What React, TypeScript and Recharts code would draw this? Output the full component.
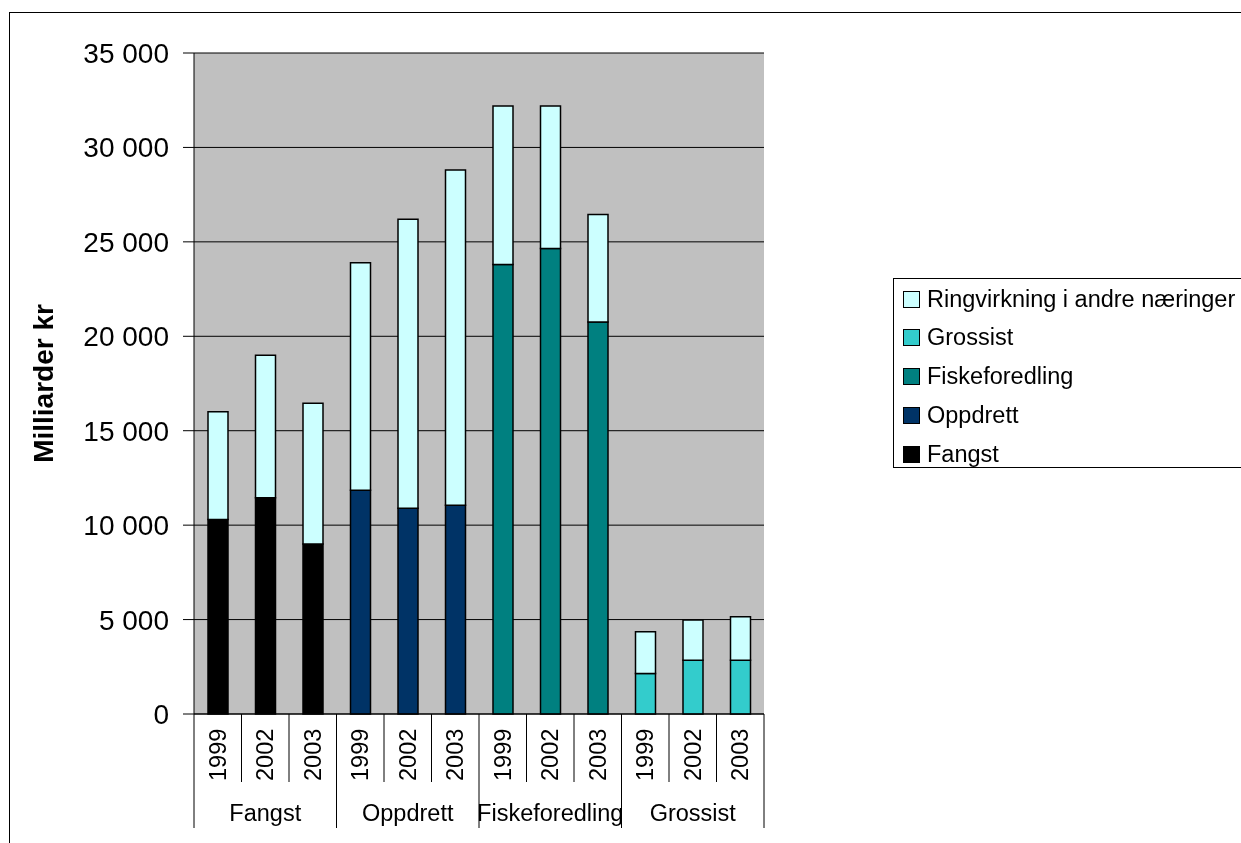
import React from "react";
import { BarChart, Bar, XAxis, YAxis, CartesianGrid } from "recharts";

const years = ["1999", "2002", "2003", "1999", "2002", "2003", "1999", "2002", "2003", "1999", "2002", "2003"];
const groups = ["Fangst", "Fangst", "Fangst", "Oppdrett", "Oppdrett", "Oppdrett", "Fiskeforedling", "Fiskeforedling", "Fiskeforedling", "Grossist", "Grossist", "Grossist"];

const fangst = [10300, 11450, 9000, 0, 0, 0, 0, 0, 0, 0, 0, 0];
const oppdrett = [0, 0, 0, 11850, 10900, 11050, 0, 0, 0, 0, 0, 0];
const fiskeforedling = [0, 0, 0, 0, 0, 0, 23800, 24650, 20750, 0, 0, 0];
const grossist = [0, 0, 0, 0, 0, 0, 0, 0, 0, 2150, 2850, 2850];
const ringvirkning = [5700, 7550, 7450, 12050, 15300, 17750, 8400, 7550, 5700, 2200, 2130, 2300];

const yTicks = [0, 5000, 10000, 15000, 20000, 25000, 30000, 35000];

const SERIES = [
  { key: "Fangst", color: "#000000" },
  { key: "Oppdrett", color: "#003366" },
  { key: "Fiskeforedling", color: "#008080" },
  { key: "Grossist", color: "#33CCCC" },
  { key: "Ringvirkning i andre næringer", color: "#CCFFFF" },
];

const data = years.map((year, i) => ({
  year,
  group: groups[i],
  Fangst: fangst[i],
  Oppdrett: oppdrett[i],
  Fiskeforedling: fiskeforedling[i],
  Grossist: grossist[i],
  "Ringvirkning i andre næringer": ringvirkning[i],
}));

const FONT = "'Liberation Sans', Arial, sans-serif";
const PLOT_W = 570;
const BAND = PLOT_W / years.length;
const YEAR_H = 68;
const GROUP_H = 46;

const fmt = (v: number) => (v === 0 ? "0" : `${Math.floor(v / 1000)} ${String(v % 1000).padStart(3, "0")}`);

function YearTick(props: any) {
  const { x, y, payload, index } = props;
  const ty = y + 67;
  return (
    <g>
      <line x1={x - BAND / 2} y1={y} x2={x - BAND / 2} y2={y + YEAR_H} stroke="#000" />
      {index === years.length - 1 && (
        <line x1={x + BAND / 2} y1={y} x2={x + BAND / 2} y2={y + YEAR_H} stroke="#000" />
      )}
      <text
        x={x}
        y={ty}
        dy="0.35em"
        transform={`rotate(-90 ${x} ${ty})`}
        textAnchor="start"
        fontSize={23.5}
        fontFamily={FONT}
        fill="#000"
      >
        {payload.value}
      </text>
    </g>
  );
}

function GroupTick(props: any) {
  const { x, y, payload, index } = props;
  return (
    <g>
      {index % 3 === 0 && <line x1={x - BAND / 2} y1={y} x2={x - BAND / 2} y2={y + GROUP_H} stroke="#000" />}
      {index === years.length - 1 && (
        <line x1={x + BAND / 2} y1={y} x2={x + BAND / 2} y2={y + GROUP_H} stroke="#000" />
      )}
      {index % 3 === 1 && (
        <text x={x} y={y + 39} textAnchor="middle" fontSize={23.5} fontFamily={FONT} fill="#000">
          {payload.value}
        </text>
      )}
    </g>
  );
}

function YTitle(props: any) {
  const vb = props.viewBox;
  const cy = vb.y + vb.height / 2;
  return (
    <text
      x={35}
      y={cy}
      dy="0.35em"
      transform={`rotate(-90 35 ${cy})`}
      textAnchor="middle"
      fontSize={28}
      fontWeight="bold"
      fontFamily={FONT}
      fill="#000"
    >
      Milliarder kr
    </text>
  );
}

const legendOrder = [...SERIES].reverse();

export default function App() {
  return (
    <div style={{ position: "fixed", left: 8, top: 8, width: 1400, height: 900, overflow: "hidden", fontFamily: FONT }}>
      <style>{"html,body{overflow:hidden}"}</style>
      <div
        style={{
          position: "absolute",
          left: 1,
          top: 4,
          width: 2000,
          height: 2000,
          border: "1px solid #000",
        }}
      />
      <div style={{ position: "absolute", left: 0, top: 0 }}>
        <BarChart
          width={1233}
          height={835}
          data={data}
          margin={{ top: 45, right: 1233 - 186 - PLOT_W, left: 0, bottom: 835 - 45 - 661 - YEAR_H - GROUP_H }}
        >
          <CartesianGrid vertical={false} stroke="#000" fill="#C0C0C0" fillOpacity={1} yAxisId="left" xAxisId="axisA_year" />
          <XAxis
            xAxisId="axisA_year"
            dataKey="year"
            height={YEAR_H}
            interval={0}
            tickSize={0}
            tickMargin={0}
            tickLine={false}
            axisLine={{ stroke: "#000" }}
            tick={<YearTick />}
          />
          <XAxis
            xAxisId="axisB_group"
            dataKey="group"
            height={GROUP_H}
            interval={0}
            tickSize={0}
            tickMargin={0}
            tickLine={false}
            axisLine={false}
            tick={<GroupTick />}
          />
          <XAxis
            xAxisId="axisC_top"
            dataKey="year"
            orientation="top"
            height={0}
            tick={false}
            tickLine={false}
            axisLine={{ stroke: "#808080", strokeWidth: 2 }}
          />
          <YAxis
            yAxisId="left"
            width={186}
            domain={[0, 35000]}
            ticks={yTicks}
            tickFormatter={fmt}
            tickSize={11}
            tickMargin={14}
            tickLine={{ stroke: "#000" }}
            axisLine={{ stroke: "#000" }}
            tick={{ fontSize: 28, fontFamily: FONT, fill: "#000" }}
            label={<YTitle />}
          />
          <YAxis
            yAxisId="right"
            orientation="right"
            width={0}
            domain={[0, 35000]}
            tick={false}
            tickLine={false}
            axisLine={{ stroke: "#808080", strokeWidth: 2 }}
          />
          {SERIES.map((s) => (
            <Bar
              key={s.key}
              dataKey={s.key}
              stackId="a"
              xAxisId="axisA_year"
              yAxisId="left"
              fill={s.color}
              stroke="#000"
              strokeWidth={1.5}
              barSize={20}
              isAnimationActive={false}
            />
          ))}
        </BarChart>
      </div>
      <div
        style={{
          position: "absolute",
          left: 885,
          top: 270,
          width: 500,
          height: 190,
          border: "1px solid #000",
          background: "#fff",
          boxSizing: "border-box",
        }}
      >
        {legendOrder.map((s, i) => (
          <div
            key={s.key}
            style={{
              position: "absolute",
              left: 9,
              top: 20 + i * 38.75 - 14,
              height: 28,
              display: "flex",
              alignItems: "center",
              fontSize: 23.5,
              whiteSpace: "nowrap",
              color: "#000",
            }}
          >
            <span
              style={{
                display: "inline-block",
                width: 15,
                height: 15,
                background: s.color,
                border: "1.5px solid #000",
                marginRight: 7,
              }}
            />
            {s.key}
          </div>
        ))}
      </div>
    </div>
  );
}
